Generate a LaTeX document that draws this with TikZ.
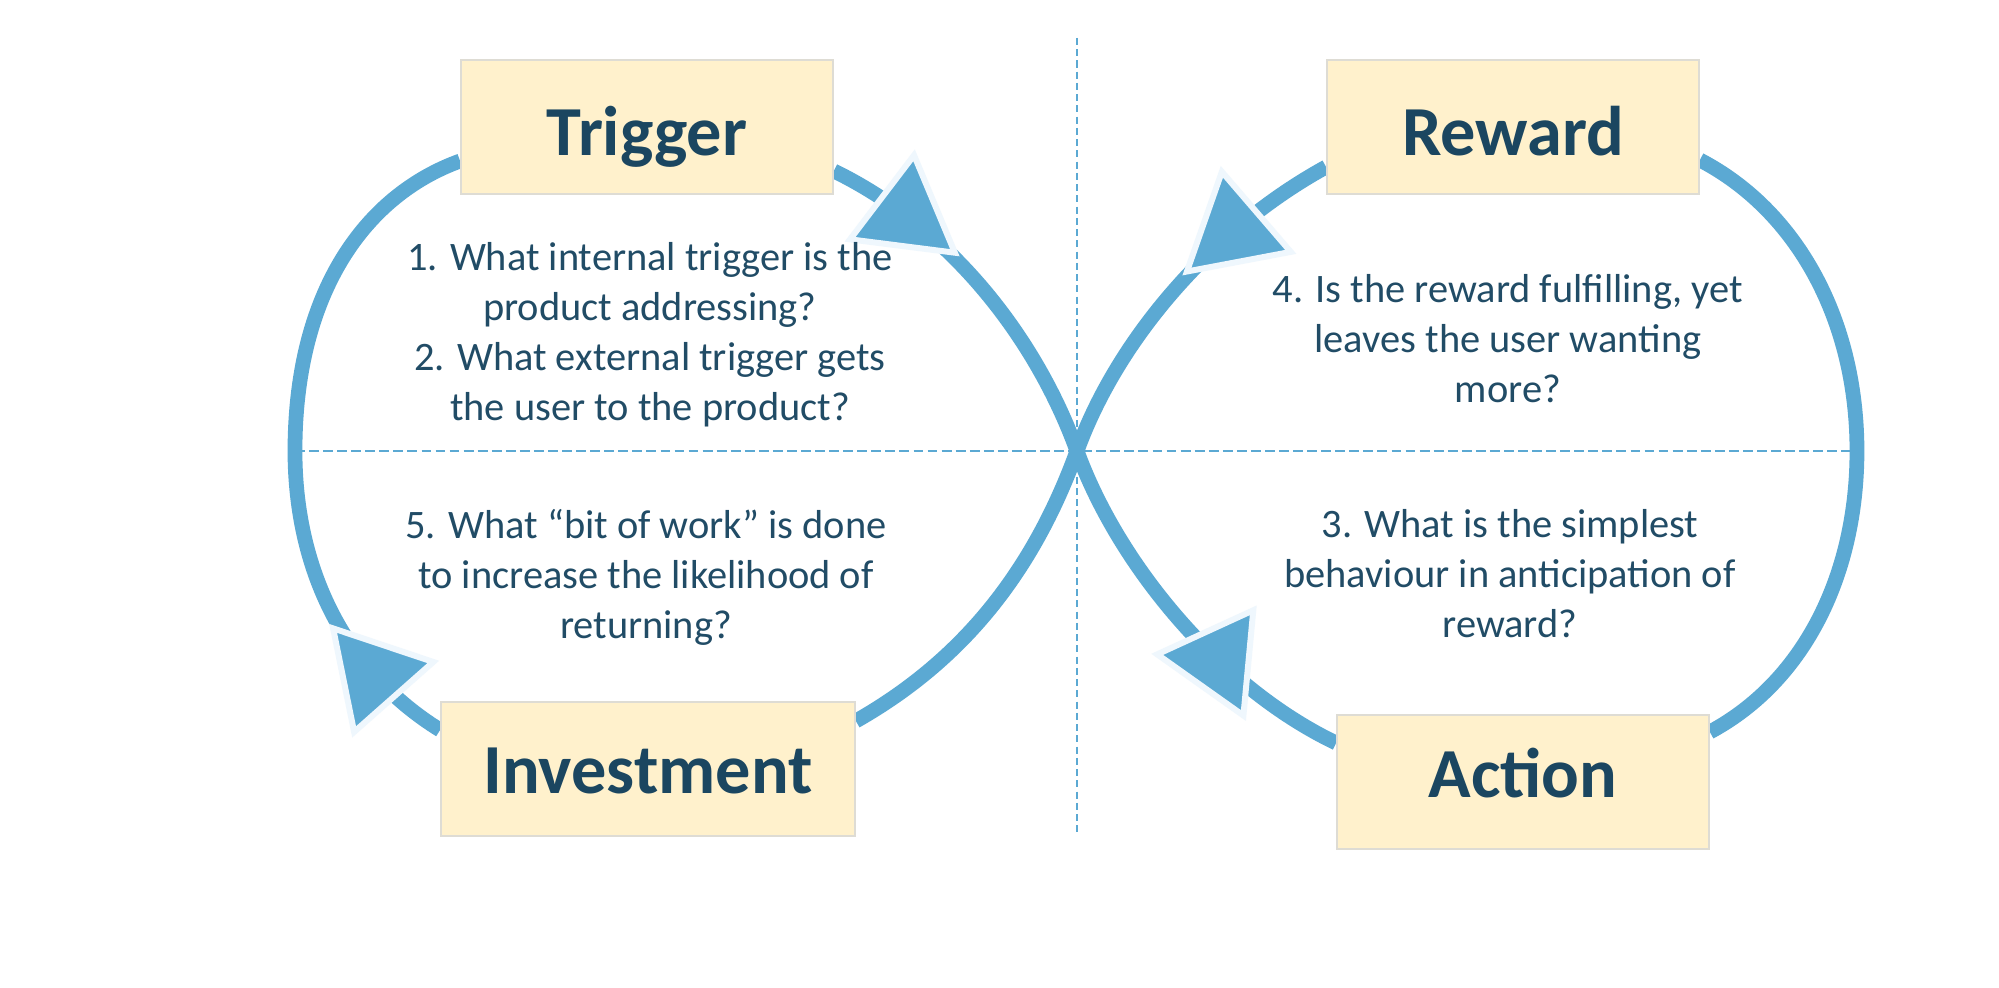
\documentclass[tikz,border=0pt]{standalone}
\usepackage{fontspec}
\setmainfont{Carlito}
\usetikzlibrary{shapes.geometric,backgrounds}

\definecolor{loopblue}{RGB}{91,169,211}
\definecolor{tipedge}{RGB}{239,247,253}
\definecolor{boxfill}{RGB}{255,241,204}
\definecolor{boxline}{RGB}{222,220,212}
\definecolor{titleblue}{RGB}{27,70,96}
\definecolor{textblue}{RGB}{33,76,102}

\begin{document}
\begin{tikzpicture}[
    loopline/.style={draw=loopblue, line width=4.2pt},
    arrowhd/.style={regular polygon, regular polygon sides=3, shape border rotate=-90, sloped, allow upside down,
        fill=loopblue, draw=tipedge, line width=1.7pt, line join=miter, minimum size=1.22cm, inner sep=0pt},
    stage/.style={draw=boxline, line width=0.5pt, fill=boxfill, minimum width=3.72cm, minimum height=1.34cm,
        text height=0.64cm, text depth=0.06cm, text=titleblue, font=\fontsize{20}{24}\selectfont\bfseries},
    question/.style={anchor=north, align=center, inner sep=0pt, text=textblue,
        font=\fontsize{11.5}{14.2}\selectfont},
    guide/.style={draw=loopblue, line width=0.8pt}
]
    \useasboundingbox (-10.77,-5.37) rectangle (9.22,4.51);

    % Crossing point and outer points of the two loops
    \coordinate (cross) at (0,0);
    \coordinate (lx) at (-7.82,0);
    \coordinate (rx) at (7.80,0);
    \coordinate (vtop) at (0,4.13);
    \coordinate (vbot) at (0,-3.84);

    % Trigger (top left)
    \node[stage] (trig) at (-4.30,3.24) {Trigger};
    \node[question] (q1) at (-4.27,2.09)
        {1. What internal trigger is the\\product addressing?\\2. What external trigger gets\\the user to the product?};

    % Reward (top right)
    \node[stage] (rew) at (4.36,3.24) {Reward};
    \node[question] (q4) at (4.31,1.77)
        {4. Is the reward fulfilling, yet\\leaves the user wanting\\more?};

    % Investment (bottom left)
    \node[stage, minimum width=4.14cm, text height=0.6cm, text depth=0.1cm] (inv) at (-4.29,-3.18) {Investment};
    \node[question] (q5) at (-4.31,-0.58)
        {5. What “bit of work” is done\\to increase the likelihood of\\returning?};

    % Action (bottom right)
    \node[stage, text height=0.5cm, text depth=0.18cm] (act) at (4.46,-3.31) {Action};
    \node[question] (q3) at (4.33,-0.58)
        {3. What is the simplest\\behaviour in anticipation of\\reward?};

    \begin{pgfonlayer}{background}
        \fill[white] (-10.77,-5.37) rectangle (9.22,4.51);

        % Guide lines
        \draw[guide, dash pattern=on 2.8pt off 1.2pt] (lx) -- (rx);
        \draw[guide, dash pattern=on 2pt off 1.2pt] (vtop) -- (vbot);

        % Trigger -> Action
        \draw[loopline] ([yshift=-0.44cm]trig.east) .. controls +(1.17,-0.57) and +(-0.41,1.13) .. (cross)
            node[arrowhd, pos=0.22] (tipT) {}
            .. controls +(0.41,-1.13) and +(-1.17,0.56) .. ([yshift=0.39cm]act.west)
            node[arrowhd, pos=0.64, shape border rotate=-112] (tipA) {};

        % Action -> Reward
        \draw[loopline] ([yshift=0.50cm]act.east) .. controls +(0.97,0.52) and +(0,-1.2) .. (rx)
            .. controls +(0,1.3) and +(0.98,-0.51) .. ([yshift=-0.33cm]rew.east);

        % Reward -> Investment
        \draw[loopline] ([yshift=-0.40cm]rew.west) .. controls +(-1.13,-0.62) and +(0.41,1.13) .. (cross)
            node[arrowhd, pos=0.29] (tipR) {}
            .. controls +(-0.41,-1.13) and +(1.13,0.64) .. ([yshift=0.48cm]inv.east);

        % Investment -> Trigger
        \draw[loopline] ([yshift=0.39cm]inv.west) .. controls +(-0.94,0.58) and +(0,-1.2) .. (lx)
            node[arrowhd, pos=0.27] (tipI) {}
            .. controls +(0,1.6) and +(-0.94,-0.34) .. ([yshift=-0.34cm]trig.west);
    \end{pgfonlayer}
\end{tikzpicture}
\end{document}
